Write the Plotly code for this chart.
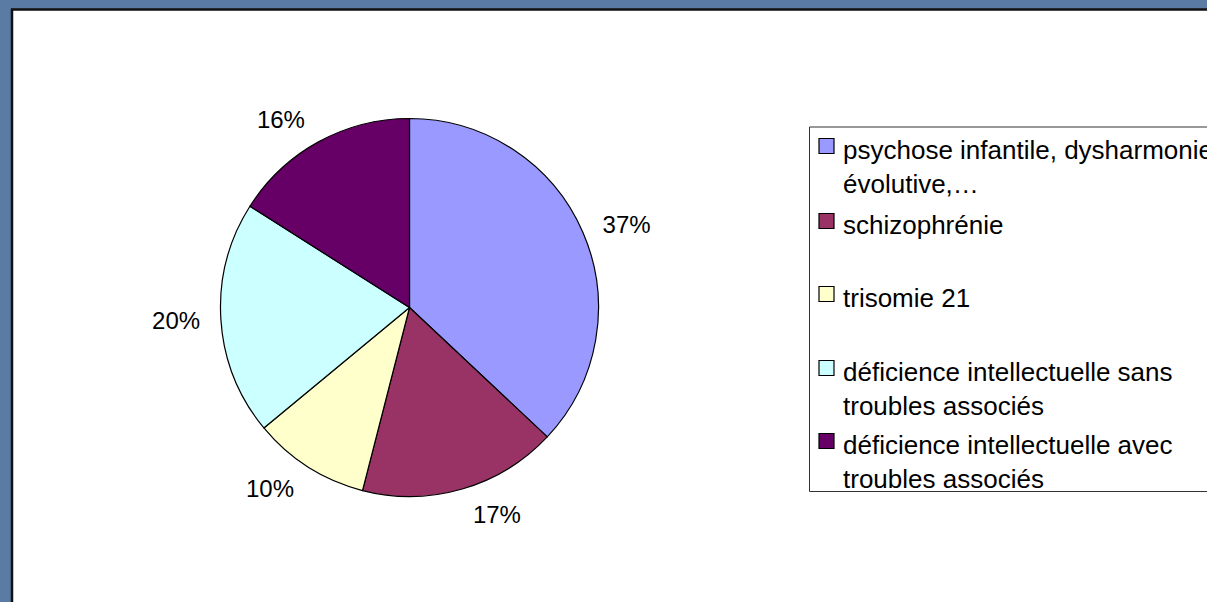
import plotly.graph_objects as go

W, H = 1207, 602

categories = [
    "psychose infantile, dysharmonie évolutive,…",
    "schizophrénie",
    "trisomie 21",
    "déficience intellectuelle sans troubles associés",
    "déficience intellectuelle avec troubles associés",
]
legend_labels = [
    "psychose infantile, dysharmonie<br>évolutive,…",
    "schizophrénie",
    "trisomie 21",
    "déficience intellectuelle sans<br>troubles associés",
    "déficience intellectuelle avec<br>troubles associés",
]
values = [37, 17, 10, 20, 16]
colors = ["#9999FF", "#993366", "#FFFFCC", "#CCFFFF", "#660066"]

FONT = "Liberation Sans, Arial, sans-serif"


def px(x):
    return x / W


def py(y):
    return 1 - y / H


def dom(cx, cy, r):
    return dict(x=[px(cx - r), px(cx + r)], y=[py(cy + r), py(cy - r)])


fig = go.Figure()

cx, cy, r = 409.5, 307.5, 189
# the pie itself
fig.add_trace(go.Pie(
    labels=categories,
    values=values,
    sort=False,
    direction="clockwise",
    rotation=0,
    marker=dict(colors=colors, line=dict(color="black", width=1.2)),
    textposition="none",
    domain=dom(cx, cy, r),
    showlegend=False,
    hoverinfo="label+percent",
))
# transparent copy, slightly larger, carrying the percentage labels
fig.add_trace(go.Pie(
    labels=categories,
    values=values,
    sort=False,
    direction="clockwise",
    rotation=0,
    marker=dict(colors=["rgba(0,0,0,0)"] * len(values), line=dict(width=0)),
    textposition="outside",
    texttemplate="%{percent:.0%}",
    textfont=dict(family=FONT, size=24, color="black"),
    domain=dom(cx, cy, r + 14),
    showlegend=False,
    hoverinfo="skip",
))

shapes = [
    # white chart area with dark border
    dict(type="rect", xref="paper", yref="paper",
         x0=px(12), x1=px(W + 20), y0=py(H + 20), y1=py(9.5),
         fillcolor="white", line=dict(color="#111111", width=2.5), layer="below"),
    # legend box
    dict(type="rect", xref="paper", yref="paper",
         x0=px(809.5), x1=px(W + 20), y0=py(491.5), y1=py(127),
         fillcolor="rgba(0,0,0,0)", line=dict(color="#333333", width=1), layer="above"),
]

annotations = []
item_centers = [146, 221, 294, 368, 441]
for lab, col, yc in zip(legend_labels, colors, item_centers):
    shapes.append(dict(type="rect", xref="paper", yref="paper",
                       x0=px(819), x1=px(834), y0=py(yc + 7.5), y1=py(yc - 7.5),
                       fillcolor=col, line=dict(color="black", width=1.2), layer="above"))
    annotations.append(dict(
        x=px(841), y=py(yc - 13), xref="paper", yref="paper",
        xanchor="left", yanchor="top", align="left", showarrow=False,
        text=lab, font=dict(family=FONT, size=26, color="black"),
    ))

fig.update_layout(
    width=W, height=H,
    margin=dict(l=0, r=0, t=0, b=0),
    paper_bgcolor="#5a7ca4",
    plot_bgcolor="white",
    shapes=shapes,
    annotations=annotations,
    showlegend=False,
)

fig.write_html("out.html", config={"displayModeBar": False},
               post_script="document.body.style.margin='0';")
